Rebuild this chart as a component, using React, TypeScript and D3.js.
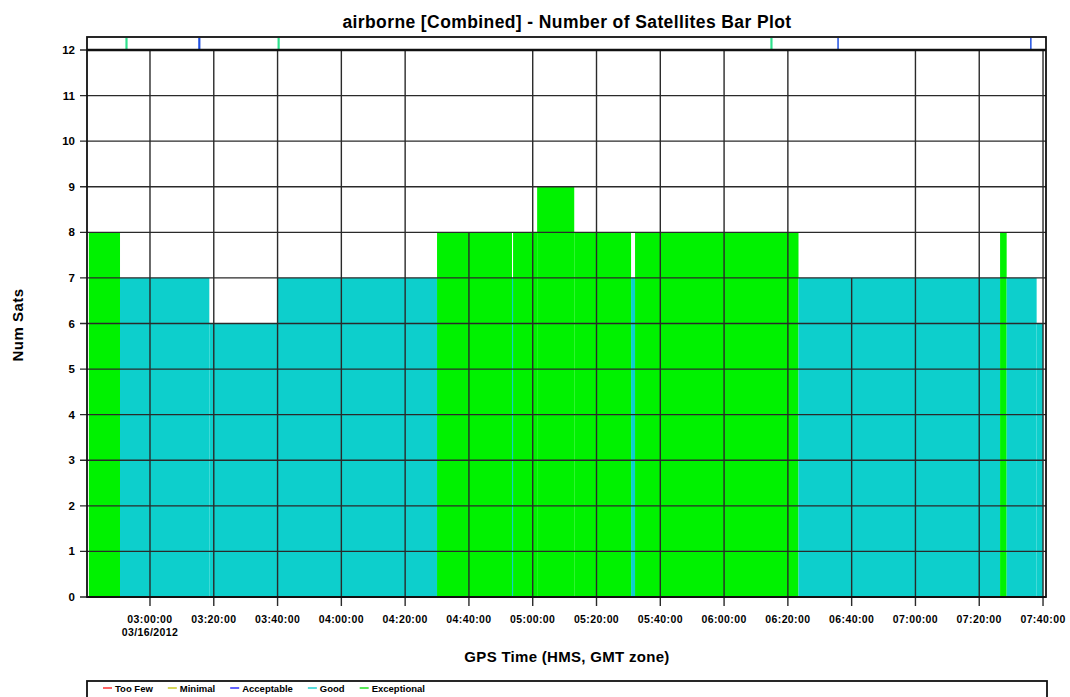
import React from "react";
import * as d3 from "d3";

// --- data (GPS time, 2012-03-16) ---
const segStart = ["02:40:50", "02:50:36", "03:18:36", "03:39:55", "04:30:00", "04:53:30", "04:53:50", "05:01:23", "05:13:01", "05:30:50", "05:32:05", "06:23:20", "07:26:32", "07:28:36", "07:38:00"];
const segEnd = ["02:50:36", "03:18:36", "03:39:55", "04:30:00", "04:53:30", "04:53:50", "05:01:23", "05:13:01", "05:30:50", "05:32:05", "06:23:20", "07:26:32", "07:28:36", "07:38:00", "07:40:00"];
const numSats = [8, 7, 6, 7, 8, 7, 8, 9, 8, 7, 8, 7, 8, 7, 6];

// marks in the strip above the plot
const markTimes = ["02:52:38", "03:15:28", "03:40:20", "06:14:51", "06:35:44", "07:36:11"];
const markKinds = ["Exceptional", "Acceptable", "Exceptional", "Exceptional", "Acceptable", "Acceptable"];

const yTicks = [0, 1, 2, 3, 4, 5, 6, 7, 8, 9, 10, 11, 12];
const partialGrid = ["04:40:00", "06:40:00"];

const legendNames = ["Too Few", "Minimal", "Acceptable", "Good", "Exceptional"];
const legendColors = ["#ff3030", "#c8c820", "#3030ff", "#20d0d0", "#20e020"];

const DAY = "2012-03-16 ";
const parse = d3.utcParse("%Y-%m-%d %H:%M:%S");
const t = (s: string) => parse(DAY + s) as Date;

const barColor = (n: number) => (n >= 8 ? "#00f200" : "#0dcfcc");
const markColor: Record<string, string> = { Exceptional: "#2ee08c", Acceptable: "#1f4fe0" };

const W = 1070;
const H = 697;
const left = 87, right = 1046, top = 37, bottom = 597;
const FONT = "'Liberation Sans', Arial, sans-serif";

// text width for the legend layout
let ctx: CanvasRenderingContext2D | null = null;
function textWidth(s: string, font: string) {
  if (!ctx) ctx = document.createElement("canvas").getContext("2d");
  if (!ctx) return s.length * 5.5;
  ctx.font = font;
  return ctx.measureText(s).width;
}

export default function App() {
  const x = d3.scaleUtc().domain([t("02:40:15"), t("07:40:56")]).range([left, right]);
  const y = d3.scaleLinear().domain([0, 12]).range([bottom, 50]);
  const xTicks = x.ticks(d3.utcMinute.every(20) as d3.TimeInterval);
  const fmt = d3.utcFormat("%H:%M:%S");
  const fmtDate = d3.utcFormat("%m/%d/%Y");
  const partial = partialGrid.map(t).map((d) => +d);

  const valueAt = (d: Date) => {
    const i = segStart.findIndex((s, k) => +t(s) <= +d && +d < +t(segEnd[k]));
    return i < 0 ? 0 : numSats[i];
  };

  const legendFont = `bold 9.5px ${FONT}`;
  let lx = 103;
  const legendX = legendNames.map((n) => {
    const p = lx;
    lx += 9 + 3 + textWidth(n, legendFont) + 15;
    return p;
  });

  return (
    <svg width={W} height={H} style={{ position: "absolute", left: 0, top: 0, background: "#fff" }} fontFamily={FONT}>
      <text x={567} y={28} textAnchor="middle" fontSize={17.5} fontWeight="bold" letterSpacing={0.4}>
        airborne [Combined] - Number of Satellites Bar Plot
      </text>

      {/* bars */}
      {numSats.map((n, i) => (
        <rect key={i} x={x(t(segStart[i]))} y={y(n)} width={x(t(segEnd[i])) - x(t(segStart[i]))} height={y(0) - y(n)} fill={barColor(n)} />
      ))}

      {/* grid */}
      {yTicks.map((v) => (
        <line key={"h" + v} x1={left - 7} x2={right} y1={y(v)} y2={y(v)} stroke="#2a2a2a" strokeWidth={1.4} />
      ))}
      {xTicks.map((d, i) => {
        const isPartial = partial.includes(+d);
        return (
          <line key={"v" + i} x1={x(d)} x2={x(d)} y1={isPartial ? y(valueAt(d)) : y(12)} y2={bottom + 9}
            stroke="#2a2a2a" strokeWidth={1.4} />
        );
      })}

      {/* top strip */}
      {markTimes.map((s, i) => (
        <line key={"m" + i} x1={x(t(s))} x2={x(t(s))} y1={top + 1} y2={50} stroke={markColor[markKinds[i]]} strokeWidth={i > 3 ? 1.5 : 2.2} />
      ))}
      <line x1={left} x2={right} y1={50} y2={50} stroke="#111" strokeWidth={2.5} />
      <line x1={left} x2={right} y1={bottom} y2={bottom} stroke="#111" strokeWidth={2.2} />
      <rect x={left} y={top} width={right - left} height={bottom - top} fill="none" stroke="#111" strokeWidth={1.8} />

      {/* y axis */}
      {yTicks.map((v) => (
        <text key={"yl" + v} x={75} y={y(v) + 4} textAnchor="end" fontSize={11.5} fontWeight="bold">{v}</text>
      ))}
      <text transform={`translate(23,${325}) rotate(-90)`} textAnchor="middle" fontSize={15} fontWeight="bold" letterSpacing={0.5}>Num Sats</text>

      {/* x axis */}
      {xTicks.map((d, i) => (
        <g key={"xl" + i}>
          <text x={x(d)} y={623} textAnchor="middle" fontSize={10.5} fontWeight="bold" letterSpacing={0.4}>{fmt(d)}</text>
          {i === 0 && (
            <text x={x(d)} y={636} textAnchor="middle" fontSize={10.5} fontWeight="bold" letterSpacing={0.4}>{fmtDate(d)}</text>
          )}
        </g>
      ))}
      <text x={567} y={662} textAnchor="middle" fontSize={15} fontWeight="bold" letterSpacing={0.3}>GPS Time (HMS, GMT zone)</text>

      {/* legend */}
      <rect x={left} y={681} width={right - left + 1} height={40} fill="#fff" stroke="#111" strokeWidth={1.8} />
      {legendNames.map((name, i) => (
        <g key={"lg" + i}>
          <line x1={legendX[i]} x2={legendX[i] + 9} y1={688} y2={688} stroke={legendColors[i]} strokeWidth={1.5} />
          <text x={legendX[i] + 12} y={691.5} fontSize={9.5} fontWeight="bold">{name}</text>
        </g>
      ))}
    </svg>
  );
}
